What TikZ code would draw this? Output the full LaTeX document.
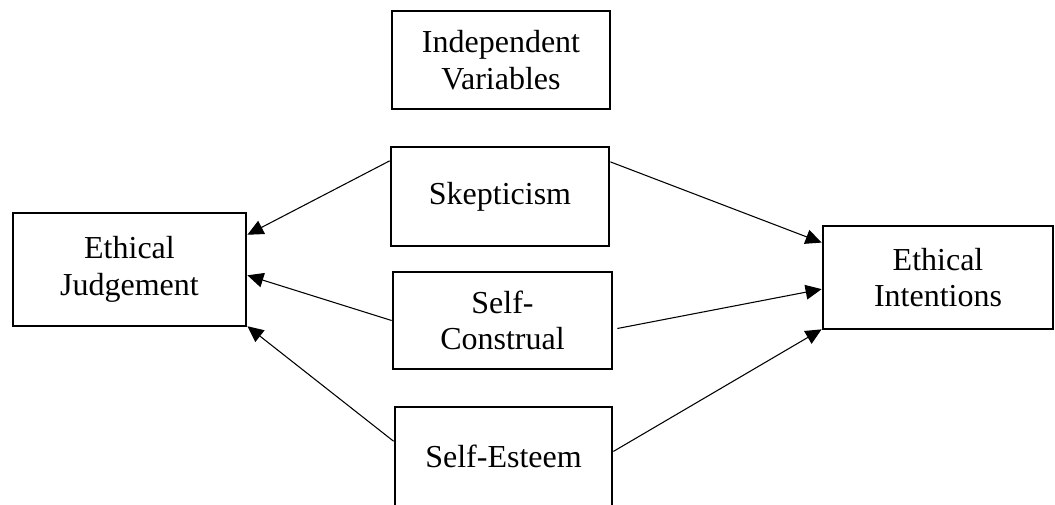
\documentclass[tikz,border=0pt]{standalone}
\usepackage{fontspec}
\setmainfont{Liberation Serif}
\usetikzlibrary{arrows.meta,calc}
\begin{document}
\begin{tikzpicture}[x=0.75pt,y=-0.75pt,
  box/.style={draw,line width=2.1pt,rectangle,inner sep=0pt,align=center,
    font=\fontsize{24}{27.5}\selectfont},
  arr/.style={line width=0.8pt,-{Triangle[length=12pt,width=11pt]}}]
\useasboundingbox (0,0) rectangle (1055,504);
\node[box,minimum width=163.5pt,minimum height=73.5pt] (IV) at (501,60) {Independent\\Variables};
\node[box,minimum width=163.5pt,minimum height=74.25pt] (SK) at (500,196.5) {Skepticism};
\node[box,minimum width=164.25pt,minimum height=72.75pt] (SC) at (502.5,320.5) {Self-\\Construal};
\node[box,minimum width=162.75pt,minimum height=74.25pt] (SE) at (503.5,456.5) {Self-Esteem};
\node[box,minimum width=174.75pt,minimum height=84.75pt] (EJ) at (129.5,269.5) {Ethical\\Judgement};
\node[box,minimum width=172.5pt,minimum height=77.25pt] (EI) at (938,277.5) {Ethical\\Intentions};
\draw[arr] ($(SK.north west)!0.15!(SK.south west)$) -- ($(EJ.north east)!0.2!(EJ.south east)$);
\draw[arr] ($(SC.north west)!0.5!(SC.south west)$) -- ($(EJ.north east)!0.55!(EJ.south east)$);
\draw[arr] ($(SE.north west)!0.35!(SE.south west)$) -- ($(EJ.north east)!0.99!(EJ.south east)$);
\draw[arr] ($(SK.north east)!0.16!(SK.south east)$) -- ($(EI.north west)!0.17!(EI.south west)$);
\draw[arr] ($(SC.north east)!0.58!(SC.south east)+(4,0)$) -- ($(EI.north west)!0.61!(EI.south west)$);
\draw[arr] ($(SE.north east)!0.45!(SE.south east)$) -- ($(EI.north west)!0.99!(EI.south west)$);
\end{tikzpicture}
\end{document}
